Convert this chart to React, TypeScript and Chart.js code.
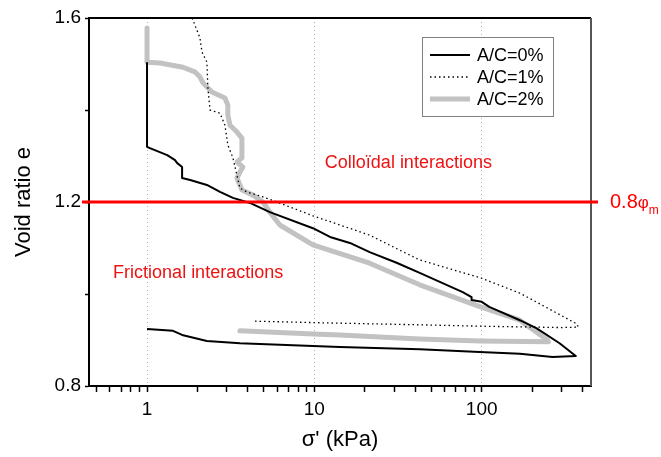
import { useEffect, useRef } from 'react';
import { Chart, registerables } from 'chart.js';

Chart.register(...registerables);

// ---- data ----
const seriesNames = ['A/C=0%', 'A/C=1%', 'A/C=2%'];

const sigma0 = [1, 1, 1.04, 1.32, 1.47, 1.51, 1.62, 1.62, 1.81, 2.28, 2.73, 3.26, 4.12, 5.42, 9.8, 12.4, 16.3, 21.4, 31, 42.6, 77, 87, 87, 100, 111, 169, 212, 292, 360, 365, 265, 169, 97, 42.6, 14.2, 9.8, 3.59, 2.28, 1.62, 1.43, 1];
const e0 = [1.502, 1.32, 1.317, 1.302, 1.291, 1.285, 1.276, 1.252, 1.248, 1.237, 1.222, 1.209, 1.198, 1.178, 1.143, 1.124, 1.111, 1.091, 1.068, 1.046, 1.004, 0.993, 0.987, 0.983, 0.972, 0.943, 0.926, 0.893, 0.867, 0.865, 0.863, 0.87, 0.874, 0.88, 0.885, 0.887, 0.893, 0.898, 0.911, 0.92, 0.924];

const sigma1 = [1.86, 2.07, 2.13, 2.28, 2.31, 2.38, 2.73, 2.92, 3.04, 3.26, 3.59, 3.95, 4.93, 5.97, 9.8, 21.4, 42.6, 98.6, 169, 370, 378, 300, 98.6, 42.6, 12.4, 4.3];
const e1 = [1.6, 1.557, 1.526, 1.504, 1.448, 1.4, 1.393, 1.367, 1.324, 1.296, 1.23, 1.222, 1.211, 1.2, 1.17, 1.128, 1.074, 1.035, 1.002, 0.935, 0.928, 0.927, 0.93, 0.933, 0.937, 0.941];

const sigma2 = [1, 1, 1.196, 1.64, 1.93, 2.07, 2.16, 2.44, 2.92, 3.04, 3.04, 3.13, 3.45, 3.69, 3.69, 3.45, 3.74, 3.59, 3.45, 3.59, 3.69, 4.3, 4.93, 5.42, 6.22, 9.8, 21.4, 42.6, 98.6, 169, 247, 250, 98.6, 42.6, 14.2, 9.8, 3.59];
const e2 = [1.578, 1.504, 1.502, 1.493, 1.483, 1.472, 1.459, 1.439, 1.426, 1.411, 1.389, 1.367, 1.352, 1.339, 1.296, 1.287, 1.276, 1.265, 1.252, 1.237, 1.226, 1.215, 1.2, 1.178, 1.15, 1.107, 1.067, 1.02, 0.972, 0.943, 0.9, 0.896, 0.898, 0.902, 0.911, 0.913, 0.92];

const xTickValues = [0.5, 0.6, 0.7, 0.8, 0.9, 1, 2, 3, 4, 5, 6, 7, 8, 9, 10, 20, 30, 40, 50, 60, 70, 80, 90, 100, 200, 300, 400];
const xTickLabels = [1, 10, 100];
const xMin = 0.45;
const xMax = 450;
const yTickValues = [0.8, 1.0, 1.2, 1.4, 1.6];
const yTickLabels = [0.8, 1.2, 1.6];
const yMin = 0.8;
const yMax = 1.6;

const thresholdE = 1.2;
const thresholdNum = '0.8';
const thresholdSym = '\u03c6';
const thresholdSub = 'm';
const regionLabels = ['Colloïdal interactions', 'Frictional interactions'];
const regionX = [11.55, 0.627];
const regionY = [1.284, 1.046];

const xTitle = "\u03c3' (kPa)";
const yTitle = 'Void ratio e';

const FONT = "'Liberation Sans', Arial, sans-serif";

const zip = (xs: number[], ys: number[]) => xs.map((x, i) => ({ x, y: ys[i] }));

export default function App() {
  const ref = useRef<HTMLCanvasElement>(null);

  useEffect(() => {
    const canvas = ref.current;
    if (!canvas) return;

    const overlay = {
      id: 'overlay',
      afterDatasetsDraw(chart: any) {
        const { ctx, chartArea: ca, scales } = chart;
        const xs = scales.x;
        const ys = scales.y;
        ctx.save();
        // top & right frame
        ctx.lineWidth = 2;
        ctx.strokeStyle = '#000';
        ctx.beginPath();
        ctx.moveTo(ca.left - 1, ca.top);
        ctx.lineTo(ca.right, ca.top);
        ctx.stroke();
        ctx.strokeStyle = '#555';
        ctx.beginPath();
        ctx.moveTo(ca.right, ca.top);
        ctx.lineTo(ca.right, ca.bottom);
        ctx.stroke();

        // threshold line
        const yr = ys.getPixelForValue(thresholdE);
        ctx.strokeStyle = '#ff0000';
        ctx.lineWidth = 3;
        ctx.beginPath();
        ctx.moveTo(ca.left - 7, yr);
        ctx.lineTo(ca.right + 7, yr);
        ctx.stroke();

        ctx.fillStyle = '#ff0000';
        ctx.textAlign = 'left';
        ctx.textBaseline = 'middle';
        let lx = ca.right + 19;
        ctx.font = `20px ${FONT}`;
        ctx.fillText(thresholdNum, lx, yr);
        lx += ctx.measureText(thresholdNum).width;
        ctx.font = `17px ${FONT}`;
        ctx.fillText(thresholdSym, lx, yr + 1);
        lx += ctx.measureText(thresholdSym).width;
        ctx.font = `12px ${FONT}`;
        ctx.fillText(thresholdSub, lx, yr + 9);

        // region labels
        ctx.font = `18px ${FONT}`;
        ctx.fillStyle = '#ee1111';
        regionLabels.forEach((t, i) => {
          ctx.fillText(t, xs.getPixelForValue(regionX[i]), ys.getPixelForValue(regionY[i]));
        });

        // legend
        const bx = ca.right - 169;
        const by = ca.top + 19;
        const bw = 131;
        const bh = 79;
        ctx.fillStyle = '#fff';
        ctx.fillRect(bx, by, bw, bh);
        ctx.strokeStyle = '#808080';
        ctx.lineWidth = 1;
        ctx.strokeRect(bx + 0.5, by + 0.5, bw, bh);
        chart.data.datasets.forEach((ds: any, i: number) => {
          const y = by + 18 + i * 22;
          ctx.save();
          ctx.strokeStyle = ds.borderColor;
          ctx.lineWidth = ds.borderWidth;
          ctx.setLineDash(ds.borderDash || []);
          ctx.lineCap = 'butt';
          ctx.beginPath();
          ctx.moveTo(bx + 8, y);
          ctx.lineTo(bx + 48, y);
          ctx.stroke();
          ctx.restore();
          ctx.fillStyle = '#000';
          ctx.font = `18px ${FONT}`;
          ctx.textBaseline = 'middle';
          ctx.fillText(ds.label, bx + 55, y + 1);
        });
        ctx.restore();
      },
    };

    const chart = new Chart(canvas, {
      type: 'scatter',
      data: {
        datasets: [
          {
            label: seriesNames[0],
            data: zip(sigma0, e0),
            showLine: true,
            borderColor: '#000',
            borderWidth: 2,
            pointRadius: 0,
            tension: 0,
            borderJoinStyle: 'round',
          },
          {
            label: seriesNames[1],
            data: zip(sigma1, e1),
            showLine: true,
            borderColor: '#000',
            borderWidth: 1.3,
            borderDash: [1.5, 3],
            pointRadius: 0,
            tension: 0,
          },
          {
            label: seriesNames[2],
            data: zip(sigma2, e2),
            showLine: true,
            borderColor: '#c2c2c2',
            borderWidth: 5,
            pointRadius: 0,
            tension: 0,
            borderCapStyle: 'round',
            borderJoinStyle: 'round',
          },
        ],
      } as any,
      options: {
        animation: false,
        responsive: false,
        devicePixelRatio: 1,
        layout: { padding: { top: 18, right: 70, left: 0, bottom: 0 } },
        plugins: {
          legend: { display: false },
          tooltip: { enabled: false },
        },
        scales: {
          x: {
            type: 'logarithmic',
            min: xMin,
            max: xMax,
            afterBuildTicks: (s: any) => {
              s.ticks = xTickValues.map((v) => ({ value: v }));
            },
            afterFit: (s: any) => {
              s.height = 71;
            },
            ticks: {
              autoSkip: false,
              maxRotation: 0,
              minRotation: 0,
              padding: 6,
              color: '#000',
              font: { family: FONT, size: 19 },
              callback: (v: any) => (xTickLabels.some((t) => Math.abs(t - Number(v)) < 1e-9) ? String(v) : ''),
            },
            grid: {
              drawOnChartArea: true,
              color: (c: any) =>
                c.tick && xTickLabels.some((t) => Math.abs(t - c.tick.value) < 1e-9) ? 'rgba(120,120,190,0.6)' : 'rgba(0,0,0,0)',
              lineWidth: 1,
              tickColor: '#000',
              tickLength: 6,
              tickWidth: 1.5,
            },
            border: { display: true, color: '#000', width: 2, dash: [1, 3] },
            title: {
              display: true,
              text: xTitle,
              color: '#000',
              font: { family: FONT, size: 22 },
              padding: { top: 0, bottom: 4 },
            },
          },
          y: {
            type: 'linear',
            min: yMin,
            max: yMax,
            afterBuildTicks: (s: any) => {
              s.ticks = yTickValues.map((v) => ({ value: v }));
            },
            afterFit: (s: any) => {
              s.width = 89;
            },
            ticks: {
              padding: 4,
              color: '#000',
              font: { family: FONT, size: 19 },
              callback: (v: any) => {
                const hit = yTickLabels.find((t) => Math.abs(t - Number(v)) < 1e-6);
                return hit !== undefined ? hit.toFixed(1) : '';
              },
            },
            grid: {
              drawOnChartArea: false,
              tickColor: '#000',
              tickLength: 4,
              tickWidth: 1.5,
            },
            border: { display: true, color: '#000', width: 2 },
            title: {
              display: true,
              text: yTitle,
              color: '#000',
              font: { family: FONT, size: 22 },
              padding: { top: 11, bottom: 0 },
            },
          },
        },
      } as any,
      plugins: [overlay],
    });

    return () => chart.destroy();
  }, []);

  return (
    <div style={{ position: 'fixed', left: 0, top: 0, width: 661, height: 457, background: '#fff' }}>
      <canvas ref={ref} width={661} height={457} style={{ display: 'block', width: 661, height: 457 }} />
    </div>
  );
}
